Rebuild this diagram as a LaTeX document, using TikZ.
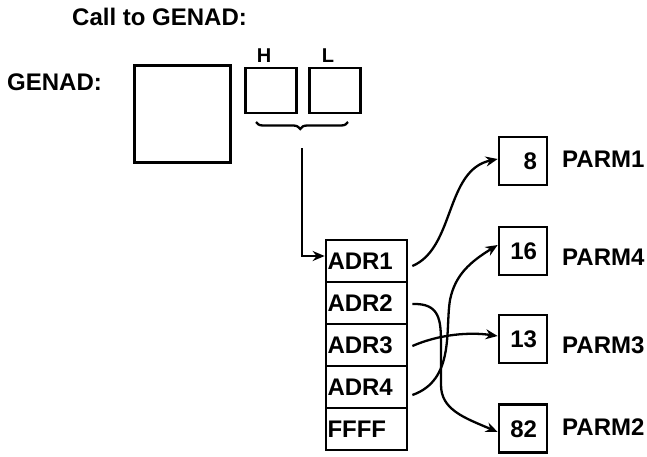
\documentclass[tikz,border=0pt]{standalone}
\usepackage{fontspec}
\setmainfont{Liberation Sans}
\usetikzlibrary{arrows.meta,decorations.pathreplacing}
\begin{document}
\begin{tikzpicture}[x=1pt,y=-1pt,
  txt/.style={font=\fontsize{24}{28}\selectfont\bfseries, inner sep=0pt},
  small/.style={font=\fontsize{20}{24}\selectfont\bfseries, inner sep=0pt},
  box/.style={draw, line width=2.7pt, inner sep=0pt},
  cell/.style={draw, line width=2.7pt, minimum width=81pt, minimum height=42pt,
     text width=78pt, align=left, inner xsep=1.5pt, inner ysep=0pt,
     text height=17pt, text depth=0pt,
     font=\fontsize{24}{28}\selectfont\bfseries},
  valbox/.style={draw, line width=2.7pt, minimum height=48pt, text width=28pt,
     align=right, inner xsep=10pt, inner ysep=0pt,
     text height=17pt, text depth=0pt,
     font=\fontsize{24}{28}\selectfont\bfseries},
  conn/.style={line width=2.3pt, -{Stealth[length=12pt,width=10pt]}}]
\useasboundingbox (0,0) rectangle (647,456);
% titles
\node[txt, anchor=base west] (title) at (72,25) {Call to GENAD:};
\node[txt, anchor=base west] (genad) at (7,90) {GENAD:};
% instruction boxes
\node[box, minimum width=96pt, minimum height=97pt] (op) at (182.5,114) {};
\node[box, minimum width=51pt, minimum height=45pt] (hb) at (271,90.5) {};
\node[box, minimum width=51pt, minimum height=45pt] (lb) at (335,90.5) {};
\node[small, anchor=base] (hl) at (264,62) {H};
\node[small, anchor=base] (ll) at (328,62) {L};
% brace
\coordinate (br1) at (256,122);
\coordinate (br2) at (348,122);
\draw[line width=2.3pt, decorate, decoration={brace, mirror, amplitude=7pt, aspect=0.48}] (br1) -- (br2);
\coordinate (bt) at (302,148);
% address table
\node[cell] (a1) at (366.5,261) {ADR1};
\node[cell] (a2) at (366.5,303) {ADR2};
\node[cell] (a3) at (366.5,345) {ADR3};
\node[cell] (a4) at (366.5,387) {ADR4};
\node[cell] (a5) at (366.5,429) {FFFF};
% parameter boxes
\node[valbox] (p1) at (523,161) {8};
\node[valbox] (p4) at (523,251) {16};
\node[valbox] (p3) at (523,339) {13};
\node[valbox] (p2) at (523,428.5) {82};
\node[txt, anchor=base west] (l1) at (562,167) {PARM1};
\node[txt, anchor=base west] (l4) at (562,265) {PARM4};
\node[txt, anchor=base west] (l3) at (562,353) {PARM3};
\node[txt, anchor=base west] (l2) at (562,435) {PARM2};
% connectors
\draw[conn] (bt) |- ([yshift=5pt]a1.west);
\draw[conn] ([xshift=4pt,yshift=-5pt]a1.east) .. controls (455,248) and (445,170) .. ([yshift=2pt]p1.west);
\draw[conn] ([xshift=4pt,yshift=-1pt]a2.east) .. controls (440,303) and (441,320) .. (441,345)
   -- (441,385) .. controls (441,410) and (465,418) .. ([yshift=-3.5pt]p2.west);
\draw[conn] ([xshift=4pt,yshift=-1pt]a3.east) .. controls (440,334) and (470,332) .. ([yshift=3pt]p3.west);
\draw[conn] ([xshift=4pt,yshift=-8pt]a4.east) .. controls (455,380) and (445,330) .. (450,300)
   .. controls (455,275) and (470,262) .. ([yshift=6pt]p4.west);
\end{tikzpicture}
\end{document}
